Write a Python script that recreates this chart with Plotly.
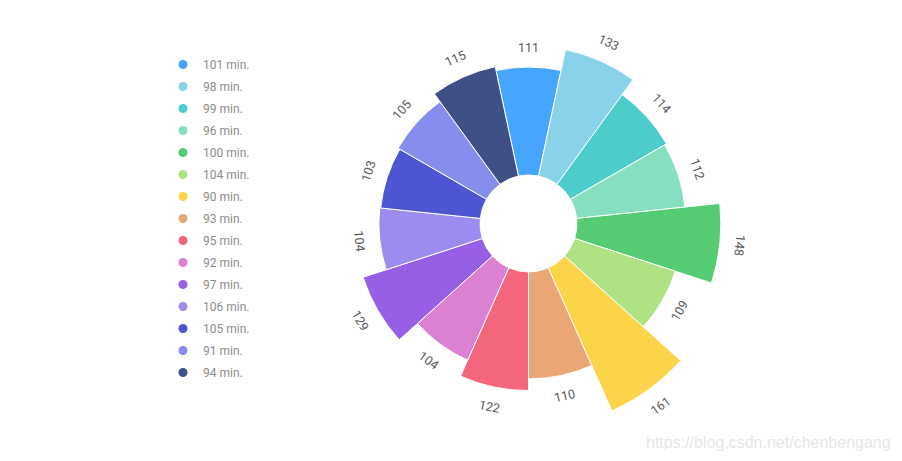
import math
import plotly.graph_objects as go

# ---- data ----
legend_labels = ["101 min.", "98 min.", "99 min.", "96 min.", "100 min.", "104 min.",
                 "90 min.", "93 min.", "95 min.", "92 min.", "97 min.", "106 min.",
                 "105 min.", "91 min.", "94 min."]
values = [111, 133, 114, 112, 148, 109, 161, 110, 122, 104, 129, 104, 103, 105, 115]
colors = ["#45A5FF", "#8AD2EA", "#4ECCCC", "#86DFBF", "#55CB74", "#AEE283",
          "#FBD44A", "#EAA674", "#F3667B", "#DC81D2", "#975FE5", "#9E8BF0",
          "#4E55D3", "#878DEC", "#3F5087"]

W, H = 902, 461
n = len(values)
step = 360 / n
thetas = [i * step for i in range(n)]
rmax = max(values)

# polar geometry (pixels)
cx, cy, R, hole_px = 528.5, 223.5, 205.0, 48.5
dom_x = [(cx - R) / W, (cx + R) / W]
dom_y = [1 - (cy + R) / H, 1 - (cy - R) / H]

fig = go.Figure()
for i in range(n):
    fig.add_trace(go.Barpolar(
        r=[values[i]], theta=[thetas[i]], width=[step],
        marker=dict(color=colors[i], line=dict(color="white", width=1)),
        name=legend_labels[i], showlegend=False, hoverinfo="skip",
    ))
# legend entries with circle markers
for i in range(n):
    fig.add_trace(go.Scatterpolar(
        r=[None], theta=[None], mode="markers",
        marker=dict(color=colors[i], size=9, symbol="circle"),
        name=legend_labels[i], legendgroup=f"g{i}", showlegend=True,
    ))

# value labels, rotated tangentially
annotations = []
for i, v in enumerate(values):
    a = thetas[i]
    rp = hole_px + (R - hole_px) * v / rmax + 20
    xp = cx + rp * math.sin(math.radians(a))
    yp = cy - rp * math.cos(math.radians(a))
    if 100 < a < 280:
        rot = a - 180
    elif a >= 280:
        rot = a - 360
    else:
        rot = a
    annotations.append(dict(
        x=xp / W, y=1 - yp / H, xref="paper", yref="paper",
        text=str(v), showarrow=False, textangle=rot,
        font=dict(size=12.5, color="#595959", family="Roboto, Helvetica, Arial, sans-serif"),
        xanchor="center", yanchor="middle",
    ))
annotations.append(dict(
    x=893 / W, y=1 - 442 / H, xref="paper", yref="paper",
    text="https://blog.csdn.net/chenbengang", showarrow=False,
    font=dict(size=16, color="#E6E6E6", family="Liberation Sans, Arial, sans-serif"),
    xanchor="right", yanchor="middle",
))

fig.update_layout(
    width=W, height=H,
    margin=dict(l=0, r=0, t=0, b=0),
    paper_bgcolor="white",
    polar=dict(
        domain=dict(x=dom_x, y=dom_y),
        bgcolor="white",
        hole=hole_px / R,
        radialaxis=dict(visible=False, range=[0, rmax]),
        angularaxis=dict(visible=False, rotation=90, direction="clockwise"),
        barmode="overlay",
    ),
    legend=dict(
        x=163 / W, y=1 - 50 / H, xanchor="left", yanchor="top",
        font=dict(size=12, color="#8C8C8C", family="Roboto, Helvetica, Arial, sans-serif"),
        tracegroupgap=3, itemwidth=30, bgcolor="rgba(0,0,0,0)",
    ),
    annotations=annotations,
)

fig.write_html("out.html")
